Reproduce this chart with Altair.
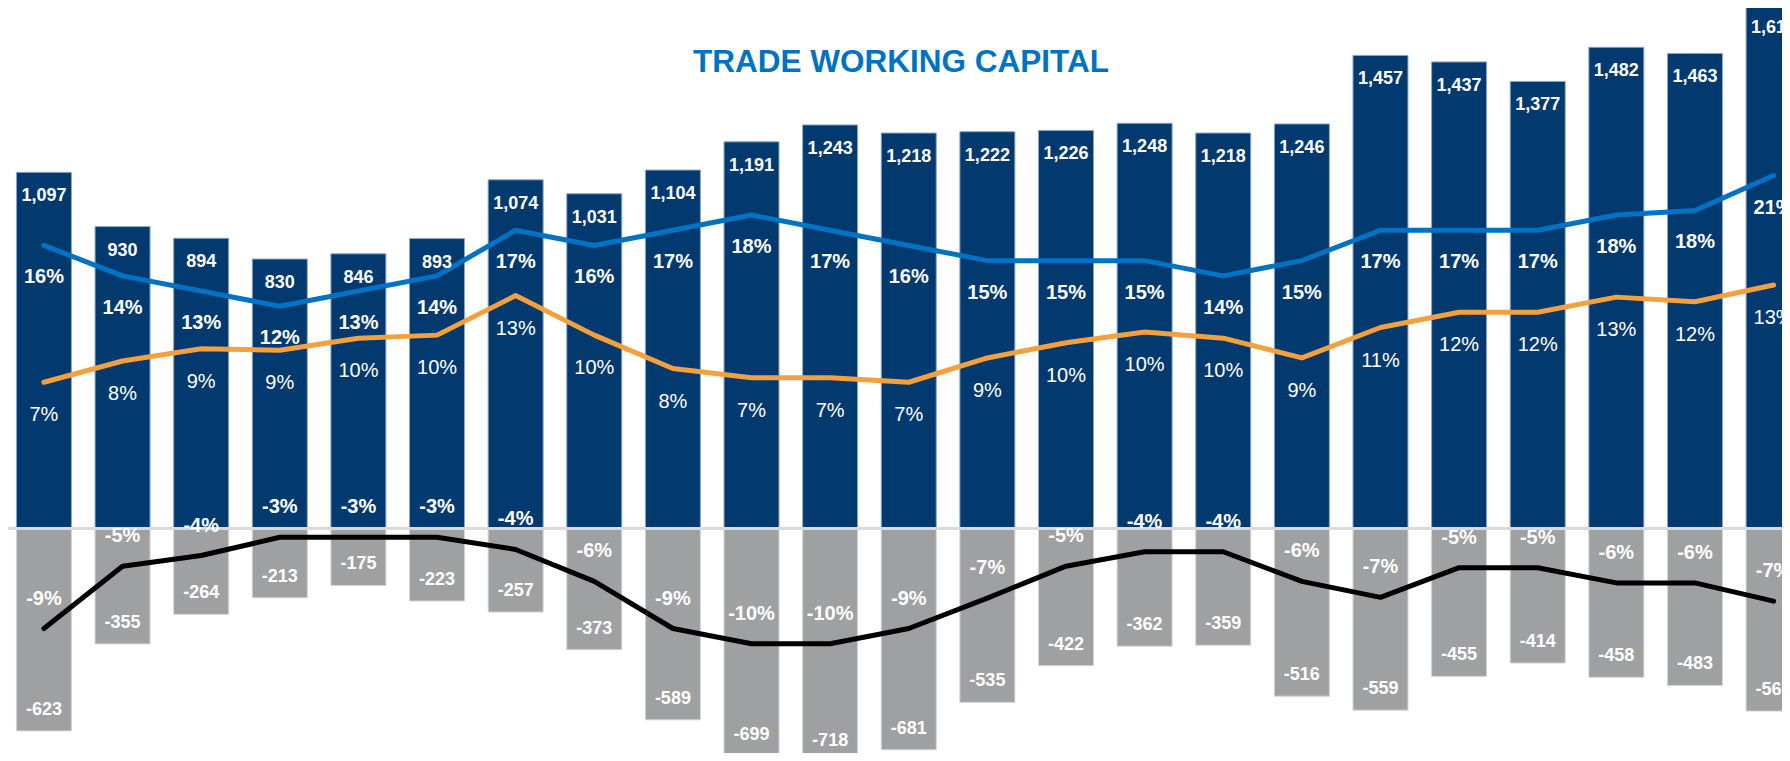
import altair as alt
import pandas as pd

# ---- data ----
navy_vals = [1097, 930, 894, 830, 846, 893, 1074, 1031, 1104, 1191, 1243, 1218,
             1222, 1226, 1248, 1218, 1246, 1457, 1437, 1377, 1482, 1463, 1614]
gray_vals = [-623, -355, -264, -213, -175, -223, -257, -373, -589, -699, -718, -681,
             -535, -422, -362, -359, -516, -559, -455, -414, -458, -483, -562]
blue_pct = [16, 14, 13, 12, 13, 14, 17, 16, 17, 18, 17, 16,
            15, 15, 15, 14, 15, 17, 17, 17, 18, 18.3, 20.6]
blue_lbl = [16, 14, 13, 12, 13, 14, 17, 16, 17, 18, 17, 16,
            15, 15, 15, 14, 15, 17, 17, 17, 18, 18, 21]
orange_pct = [7.0, 8.4, 9.2, 9.1, 9.9, 10.1, 12.7, 10.1, 7.9, 7.3, 7.3, 7.0,
              8.6, 9.6, 10.3, 9.9, 8.6, 10.6, 11.6, 11.6, 12.6, 12.3, 13.4]
orange_lbl = [7, 8, 9, 9, 10, 10, 13, 10, 8, 7, 7, 7,
              9, 10, 10, 10, 9, 11, 12, 12, 13, 12, 13]
black_pct = [-9.2, -5.1, -4.4, -3.2, -3.2, -3.2, -4.0, -6.1, -9.2, -10.2, -10.2, -9.2,
             -7.2, -5.1, -4.15, -4.15, -6.1, -7.15, -5.2, -5.2, -6.2, -6.2, -7.4]
black_lbl = [-9, -5, -4, -3, -3, -3, -4, -6, -9, -10, -10, -9,
             -7, -5, -4, -4, -6, -7, -5, -5, -6, -6, -7]
title_text = "TRADE WORKING CAPITAL"

NAVY = "#023A70"
GRAY = "#9FA0A2"
BLUE = "#0072C4"
ORANGE = "#F5A03E"
BLACK = "#000000"
FONT = "Liberation Sans"

idx = list(range(len(navy_vals)))
df = pd.DataFrame({
    "i": idx,
    "navy": navy_vals,
    "gray": gray_vals,
    "blue": blue_pct,
    "orange": orange_pct,
    "black": black_pct,
    "navy_txt": [f"{v:,}" for v in navy_vals],
    "gray_txt": [f"{v}" for v in gray_vals],
    "blue_txt": [f"{v}%" for v in blue_lbl],
    "orange_txt": [f"{v}%" for v in orange_lbl],
    "black_txt": [f"{v}%" for v in black_lbl],
})

X = alt.X("i:Q", scale=alt.Scale(domain=[-0.457, 22.107], nice=False, zero=False, padding=0), axis=None)
YB = alt.Scale(domain=[-691, 1603], nice=False, zero=False, padding=0)
YP = alt.Scale(domain=[-17.39, 31.62], nice=False, zero=False, padding=0)

base = alt.Chart(df)

navy_bars = base.mark_bar(width=55, color=NAVY, stroke="#8EA6C6", strokeWidth=1, clip=True).encode(
    x=X, y=alt.Y("navy:Q", scale=YB, axis=None), y2=alt.datum(0))
gray_bars = base.mark_bar(width=55, color=GRAY, stroke="#D4D4D6", strokeWidth=1, clip=True).encode(
    x=X, y=alt.Y("gray:Q", scale=YB, axis=None), y2=alt.datum(0))
zero_rule = base.mark_rule(color="#DADADA", strokeWidth=2).encode(y=alt.datum(0))
bars = alt.layer(navy_bars, gray_bars, zero_rule)

def line(field, color):
    return base.mark_line(color=color, strokeWidth=5, strokeCap="round", strokeJoin="round", clip=True).encode(
        x=X, y=alt.Y(f"{field}:Q", scale=YP, axis=None))

def pct_text(field, txt, dy, weight):
    return base.mark_text(font=FONT, fontSize=20, fontWeight=weight, color="white",
                          baseline="middle", align="center", dy=dy, clip=True).encode(
        x=X, y=alt.Y(f"{field}:Q", scale=YP, axis=None), text=f"{txt}:N")

lines = alt.layer(
    line("orange", ORANGE),
    line("blue", BLUE),
    line("black", BLACK),
    pct_text("blue", "blue_txt", 32, "bold"),
    pct_text("orange", "orange_txt", 33, "normal"),
    pct_text("black", "black_txt", -30, "bold"),
)

navy_lbl = base.mark_text(font=FONT, fontSize=18, fontWeight="bold", color="white",
                          baseline="middle", dy=24, clip=True).encode(
    x=X, y=alt.Y("navy:Q", scale=YB, axis=None), text="navy_txt:N")
gray_lbl = base.mark_text(font=FONT, fontSize=18, fontWeight="bold", color="white",
                          baseline="middle", dy=-21, clip=True).encode(
    x=X, y=alt.Y("gray:Q", scale=YB, axis=None), text="gray_txt:N")
bar_labels = alt.layer(navy_lbl, gray_lbl)

title = alt.Chart(pd.DataFrame({"t": [title_text]})).mark_text(
    font=FONT, fontSize=31.5, fontWeight="bold", color=BLUE, align="center", baseline="middle"
).encode(x=alt.value(893), y=alt.value(55), text="t:N")

chart = alt.layer(bars, lines, bar_labels, title).resolve_scale(y="independent").properties(
    width=1774, height=745, padding=0,
    autosize=alt.AutoSizeParams(type="none"),
    background="white",
).configure_view(stroke=None)

chart.save("out.html", embed_options={"renderer": "svg", "actions": False})
